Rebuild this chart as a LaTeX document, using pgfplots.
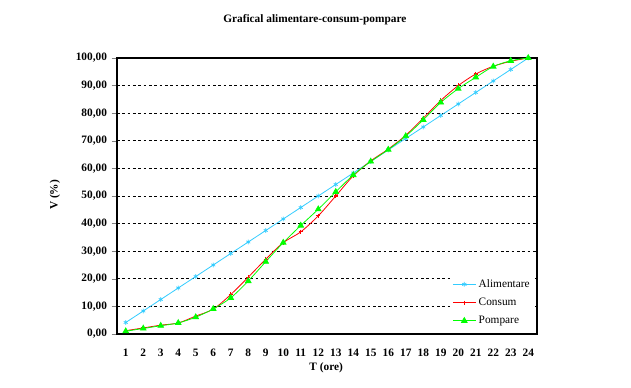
\documentclass[border=0pt]{standalone}
\usepackage{fontspec}
\setmainfont{Liberation Serif}
\usepackage{pgfplots}
\pgfplotsset{compat=1.18}
\definecolor{cblue}{HTML}{33CCFF}
\definecolor{cred}{HTML}{FF0000}
\definecolor{cgreen}{HTML}{00FF00}
\begin{document}
\begin{tikzpicture}
\begin{axis}[
  scale only axis,
  width=315pt, height=207pt,
  xmin=0.5, xmax=24.5, ymin=0, ymax=100,
  xtick={1,...,24},
  ytick={0,10,...,100},
  major x tick style={draw=none},
  ytick pos=left, xtick pos=bottom,
  tick align=outside,
  major tick length=4pt,
  ymajorgrids,
  major grid style={black, dash pattern=on 2pt off 2pt, line width=0.6pt},
  axis line style={black, line width=0.8pt},
  /pgf/number format/assume math mode=true,
  yticklabel style={/pgf/number format/.cd, fixed, fixed zerofill, precision=2, use comma},
  ticklabel style={font=\fontsize{8.5}{10}\selectfont\bfseries},
  xticklabel style={yshift=-4pt},
  title={Grafical alimentare-consum-pompare},
  title style={at={(0.471,1.108)}, anchor=center, font=\fontsize{8.5}{10}\selectfont\bfseries},
  xlabel={T (ore)},
  xlabel style={at={(0.498,-0.124)}, anchor=center, font=\fontsize{8.5}{10}\selectfont\bfseries},
  ylabel={V (\%)},
  ylabel style={at={(-0.148,0.504)}, anchor=center, font=\fontsize{8.5}{10}\selectfont\bfseries},
  legend style={at={(0.996,0.008)}, anchor=south east, draw=none, fill=white,
    font=\fontsize{8.5}{10}\selectfont, row sep=2.5pt, inner xsep=2pt, inner ysep=2.5pt},
  legend cell align=left,
]
\addplot[color=cblue, line width=0.6pt, smooth, mark=asterisk, mark size=1.8pt, mark options={line width=0.5pt}] coordinates {
(1,4.17) (2,8.33) (3,12.5) (4,16.67) (5,20.83) (6,25) (7,29.17) (8,33.33)
(9,37.5) (10,41.67) (11,45.83) (12,50) (13,54.17) (14,58.33) (15,62.5) (16,66.67)
(17,70.83) (18,75) (19,79.17) (20,83.33) (21,87.5) (22,91.67) (23,95.83) (24,100)};
\addlegendentry{Alimentare}
\addplot[color=cred, line width=0.6pt, smooth, mark=+, mark size=1.6pt, mark options={line width=0.8pt}] coordinates {
(1,1.2) (2,2.2) (3,3.2) (4,4.0) (5,6.5) (6,9.0) (7,14.3) (8,20.6)
(9,27.1) (10,33.1) (11,37.0) (12,42.8) (13,50.0) (14,57.3) (15,62.7) (16,67.0)
(17,72.0) (18,78.2) (19,84.6) (20,90.0) (21,94.2) (22,97.0) (23,98.8) (24,100)};
\addlegendentry{Consum}
\addplot[color=cgreen, line width=0.6pt, smooth, mark=triangle*, mark size=2.4pt, mark options={fill=cgreen}] coordinates {
(1,1.0) (2,2.0) (3,3.0) (4,4.0) (5,6.1) (6,9.1) (7,13.1) (8,19.2)
(9,26.2) (10,33.1) (11,39.3) (12,45.2) (13,51.5) (14,57.6) (15,62.5) (16,66.8)
(17,71.7) (18,77.6) (19,83.9) (20,88.9) (21,93.0) (22,96.9) (23,99.0) (24,100)};
\addlegendentry{Pompare}
\end{axis}
\path ([xshift=-87.75pt,yshift=-40.5pt]current axis.south west) rectangle ([xshift=70.5pt,yshift=43.5pt]current axis.north east);
\end{tikzpicture}
\end{document}
